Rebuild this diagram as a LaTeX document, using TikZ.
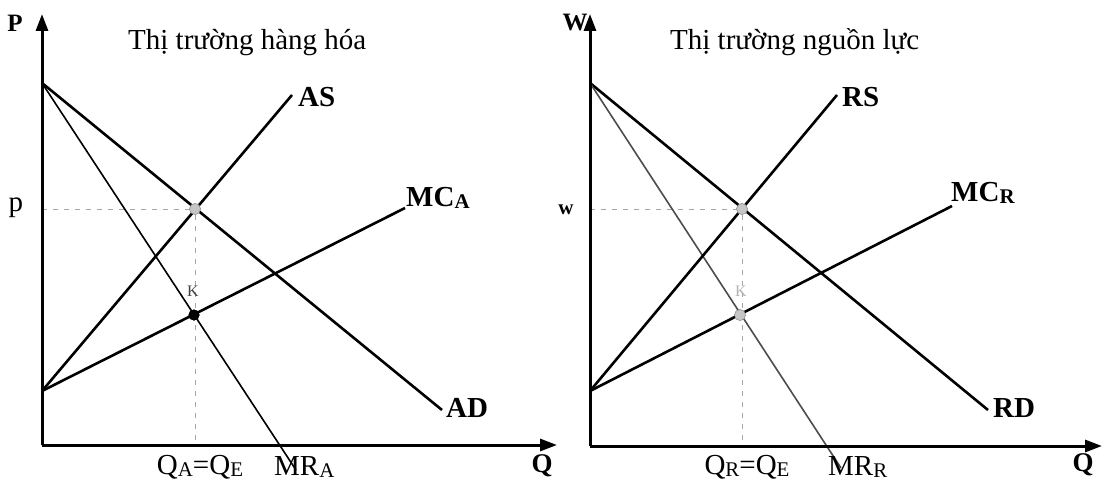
\documentclass[tikz,border=0pt]{standalone}
\usepackage{fontspec}
\setmainfont{Liberation Serif}
\usetikzlibrary{arrows.meta,calc}
\newcommand\lsub[1]{\raisebox{-0.08em}{\scalebox{0.72}{#1}}}
\tikzset{
  axis/.style={line width=3pt,-{Triangle[length=17pt,width=12pt]}},
  curve/.style={line width=2.6pt},
  mrline/.style={line width=1.6pt},
  guide/.style={line width=0.8pt,gray!70,dash pattern=on 5pt off 6pt},
  title/.style={font=\fontsize{29}{31}\selectfont,anchor=base west,inner sep=0pt},
  blab/.style={font=\fontsize{29}{31}\selectfont\bfseries,inner sep=0pt},
  rlab/.style={font=\fontsize{29}{31}\selectfont,inner sep=0pt},
  axlab/.style={font=\fontsize{25}{27}\selectfont\bfseries,inner sep=0pt},
  gdot/.style={circle,fill=gray!45,draw=gray!80,line width=0.6pt,minimum size=11pt,inner sep=0pt},
  kdot/.style={circle,fill=black,minimum size=11pt,inner sep=0pt},
}
\begin{document}
\begin{tikzpicture}[x=1pt,y=-1pt]
\useasboundingbox (0,0) rectangle (1109,487);
% ---------- left panel ----------
\coordinate (O1) at (42,445);
\coordinate (Y1) at (42,14);
\coordinate (X1) at (557,445);
\coordinate (A1) at (42,83);
\coordinate (B1) at (42,391);
\coordinate (ADe) at (442,410);
\coordinate (ASe) at (292,95);
\coordinate (MRAe) at (296,470);
\coordinate (MCAe) at (405,208);
\node[gdot] (E1) at (195,209) {};
\node[kdot] (K1) at (194,315) {};
\draw[guide] (O1 |- E1) -- (E1);
\draw[guide] (E1) -- (E1 |- O1);
\draw[curve] (A1) -- (ADe);
\draw[mrline] (A1) -- (MRAe);
\draw[curve] (B1) -- (ASe);
\draw[curve] (B1) -- (MCAe);
\draw[axis] (O1) -- (Y1);
\draw[axis] (O1) -- (X1);
\node[gdot] at (E1) {};
\node[kdot] at (K1) {};
\node[axlab] (P) at (15,23) {P};
\node[title] (T1) at (128,50) {Thị trường hàng hóa};
\node[blab,anchor=west] (AS) at (298,97) {AS};
\node[blab,anchor=west] (MCA) at (406,198) {MC\lsub{A}};
\node[blab,anchor=west] (AD) at (446,408) {AD};
\node[font=\fontsize{29}{31}\selectfont,inner sep=0pt] (p) at (16,208) {p};
\node[font=\fontsize{16}{17}\selectfont,text=gray!50!black,inner sep=0pt] (K1l) at (193,291) {K};
\node[rlab] (QA) at (200,467) {Q\lsub{A}=Q\lsub{E}};
\node[rlab,anchor=west] (MRA) at (274,467) {MR\lsub{A}};
\node[axlab,font=\fontsize{27}{29}\selectfont\bfseries] (Q1) at (542,466) {Q};
% ---------- right panel ----------
\coordinate (O2) at (590,446);
\coordinate (Y2) at (590,14);
\coordinate (X2) at (1102,446);
\coordinate (A2) at (590,83);
\coordinate (B2) at (590,391);
\coordinate (RDe) at (988,410);
\coordinate (RSe) at (837,95);
\coordinate (MRRe) at (841,468);
\coordinate (MCRe) at (952,206);
\node[gdot] (E2) at (742,209) {};
\node[gdot] (K2) at (740,315) {};
\draw[guide] (O2 |- E2) -- (E2);
\draw[guide] (E2) -- (E2 |- O2);
\draw[curve] (A2) -- (RDe);
\draw[mrline,gray!60!black] (A2) -- (MRRe);
\draw[curve] (B2) -- (RSe);
\draw[curve] (B2) -- (MCRe);
\draw[axis] (O2) -- (Y2);
\draw[axis] (O2) -- (X2);
\node[gdot] at (E2) {};
\node[gdot] at (K2) {};
\node[axlab] (W) at (575,23) {W};
\node[title] (T2) at (670,50) {Thị trường nguồn lực};
\node[blab,anchor=west] (RS) at (842,97) {RS};
\node[blab,anchor=west] (MCR) at (951,193) {MC\lsub{R}};
\node[blab,anchor=west] (RD) at (993,408) {RD};
\node[font=\fontsize{21}{23}\selectfont\bfseries,inner sep=0pt] (w) at (566,210) {w};
\node[font=\fontsize{16}{17}\selectfont,text=gray!60,inner sep=0pt] (K2l) at (741,291) {K};
\node[rlab] (QR) at (747,467) {Q\lsub{R}=Q\lsub{E}};
\node[rlab,anchor=west] (MRR) at (828,467) {MR\lsub{R}};
\node[axlab,font=\fontsize{27}{29}\selectfont\bfseries] (Q2) at (1083,465) {Q};
\end{tikzpicture}
\end{document}
